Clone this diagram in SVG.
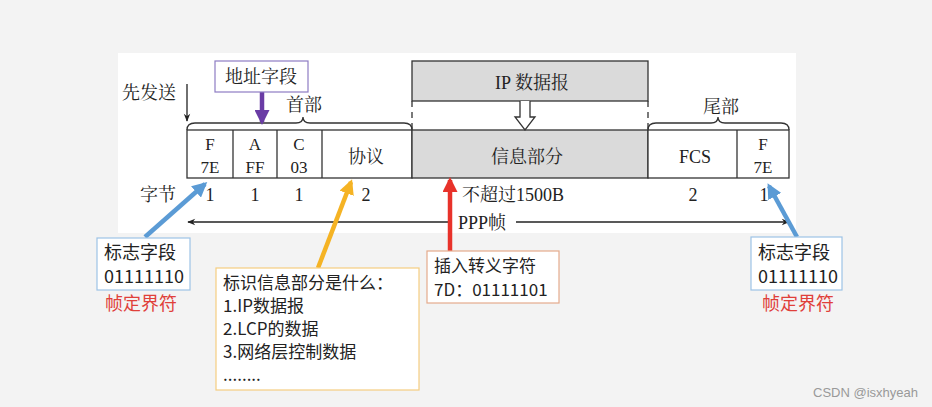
<svg xmlns="http://www.w3.org/2000/svg" width="932" height="407" viewBox="0 0 932 407">
<style>
.serif{font-family:"Liberation Serif","Noto Serif CJK SC","Noto Sans CJK SC",serif;fill:#222;font-size:18px}
.sans{font-family:"Noto Sans CJK SC","Liberation Sans",sans-serif;fill:#222;font-size:18px}
.small{font-size:17px}
.red{fill:#e0403a}
.cell{fill:#fff;stroke:#333;stroke-width:1.3}
.gray{fill:#dadada;stroke:#333;stroke-width:1.3}
.line{fill:none;stroke:#333;stroke-width:1.3}
.mid{text-anchor:middle}
</style>
<defs>
<marker id="hBlk" viewBox="0 0 10 10" refX="9" refY="5" markerWidth="12" markerHeight="8" markerUnits="userSpaceOnUse" orient="auto"><path d="M0,1 L10,5 L0,9 L3,5 z" fill="#222"/></marker>
<marker id="hBlue" viewBox="0 0 10 10" refX="8" refY="5" markerWidth="15" markerHeight="15" markerUnits="userSpaceOnUse" orient="auto"><path d="M0,0 L10,5 L0,10 z" fill="#5b9bd5"/></marker>
<marker id="hOr" viewBox="0 0 10 10" refX="8" refY="5" markerWidth="15" markerHeight="15" markerUnits="userSpaceOnUse" orient="auto"><path d="M0,0 L10,5 L0,10 z" fill="#f5b324"/></marker>
<marker id="hRed" viewBox="0 0 10 10" refX="8" refY="5" markerWidth="15" markerHeight="15" markerUnits="userSpaceOnUse" orient="auto"><path d="M0,0 L10,5 L0,10 z" fill="#e8322a"/></marker>
<marker id="hPur" viewBox="0 0 10 10" refX="8" refY="5" markerWidth="15" markerHeight="15" markerUnits="userSpaceOnUse" orient="auto"><path d="M0,0 L10,5 L0,10 z" fill="#6a3ca5"/></marker>
</defs>
<rect width="932" height="407" fill="#f3f3f3"/>
<rect x="118" y="53" width="678" height="180" fill="#fff"/>

<g id="frame">
<rect class="cell" x="187" y="130" width="225" height="48"/>
<line class="line" x1="233" y1="130" x2="233" y2="178"/>
<line class="line" x1="277" y1="130" x2="277" y2="178"/>
<line class="line" x1="322" y1="130" x2="322" y2="178"/>
<rect class="gray" x="412" y="130" width="236" height="48"/>
<rect class="cell" x="648" y="130" width="141" height="48"/>
<line class="line" x1="737" y1="130" x2="737" y2="178"/>
<text class="serif mid small" x="210" y="150">F</text>
<text class="serif mid small" x="210" y="173">7E</text>
<text class="serif mid small" x="255" y="150">A</text>
<text class="serif mid small" x="255" y="173">FF</text>
<text class="serif mid small" x="299" y="150">C</text>
<text class="serif mid small" x="299" y="173">03</text>
<text class="serif mid" x="366" y="163">协议</text>
<text class="serif mid" x="527" y="163">信息部分</text>
<text class="serif mid" x="695" y="163">FCS</text>
<text class="serif mid small" x="763" y="150">F</text>
<text class="serif mid small" x="763" y="173">7E</text>
</g>

<g id="braces">
<path class="line" d="M187,130 Q187,123 195,123 H296 Q303,123 303,117 Q303,123 310,123 H404 Q412,123 412,130"/>
<text class="serif mid" x="304" y="111">首部</text>
<path class="line" d="M648,130 Q648,123 656,123 H711 Q718,123 718,117 Q718,123 725,123 H781 Q789,123 789,130"/>
<text class="serif mid" x="721" y="113">尾部</text>
</g>

<g id="ip">
<rect class="gray" x="412" y="61" width="236" height="40"/>
<text class="serif mid" x="532" y="89">IP 数据报</text>
<line class="line" x1="412" y1="101" x2="412" y2="130" stroke-dasharray="6,5"/>
<line class="line" x1="648" y1="101" x2="648" y2="130" stroke-dasharray="6,5"/>
<path class="line" style="fill:#fff" d="M520,101 V117 H515 L525,130 L535,117 H530 V101"/>
</g>

<g id="bytes">
<text class="serif" x="140" y="201">字节</text>
<text class="serif mid" x="210" y="201">1</text>
<text class="serif mid" x="255" y="201">1</text>
<text class="serif mid" x="299" y="201">1</text>
<text class="serif mid" x="366" y="201">2</text>
<text class="serif" x="462" y="201">不超过1500B</text>
<text class="serif mid" x="693" y="201">2</text>
<text class="serif mid" x="764" y="201">1</text>
<text class="serif" x="458" y="229">PPP帧</text>
<text class="serif" x="122" y="99">先发送</text>
</g>

<g id="connectors">
<line x1="452" y1="222" x2="188" y2="222" stroke="#222" stroke-width="1.3" marker-end="url(#hBlk)"/>
<line x1="516" y1="222" x2="789" y2="222" stroke="#222" stroke-width="1.3" marker-end="url(#hBlk)"/>
<line x1="187" y1="84" x2="187" y2="121" stroke="#222" stroke-width="1.3" marker-end="url(#hBlk)"/>
<line x1="262" y1="92" x2="262" y2="122" stroke="#6a3ca5" stroke-width="4.5" marker-end="url(#hPur)"/>
<line x1="145" y1="237" x2="205" y2="184" stroke="#5b9bd5" stroke-width="4.5" marker-end="url(#hBlue)"/>
<line x1="797" y1="237" x2="769" y2="186" stroke="#5b9bd5" stroke-width="4.5" marker-end="url(#hBlue)"/>
<line x1="318" y1="268" x2="351" y2="182" stroke="#f5b324" stroke-width="4.5" marker-end="url(#hOr)"/>
<line x1="450" y1="252" x2="450" y2="180" stroke="#e8322a" stroke-width="4.5" marker-end="url(#hRed)"/>
</g>

<g id="addr">
<rect x="215" y="61" width="93" height="31" fill="#fff" stroke="#8e7cc3" stroke-width="1.2"/>
<text class="serif mid" x="261" y="83">地址字段</text>
</g>

<g id="flagL">
<rect x="97" y="238" width="93" height="52" fill="#fff" stroke="#9dc3e6" stroke-width="1.2"/>
<text class="sans" x="104" y="259">标志字段</text>
<text class="sans" x="104" y="283">01111110</text>
<text class="sans red" x="105" y="310">帧定界符</text>
</g>

<g id="flagR">
<rect x="751" y="237" width="91" height="53" fill="#fff" stroke="#9dc3e6" stroke-width="1.2"/>
<text class="sans" x="758" y="259">标志字段</text>
<text class="sans" x="758" y="283">01111110</text>
<text class="sans red" x="762" y="310">帧定界符</text>
</g>

<g id="proto">
<rect x="216" y="268" width="203" height="122" fill="#fff" stroke="#f5cd80" stroke-width="1.2"/>
<text class="sans small" x="223" y="289">标识信息部分是什么：</text>
<text class="sans small" x="223" y="312">1.IP数据报</text>
<text class="sans small" x="223" y="335">2.LCP的数据</text>
<text class="sans small" x="223" y="358">3.网络层控制数据</text>
<text class="sans small" x="223" y="381">........</text>
</g>

<g id="escape">
<rect x="427" y="251" width="132" height="52" fill="#fff" stroke="#e5ab8c" stroke-width="1.2"/>
<text class="sans small" x="434" y="272">插入转义字符</text>
<text class="sans small" x="434" y="296">7D：01111101</text>
</g>

<text x="813" y="397" style="font-family:'Liberation Sans',sans-serif;font-size:13px;fill:#999">CSDN @isxhyeah</text>
</svg>
